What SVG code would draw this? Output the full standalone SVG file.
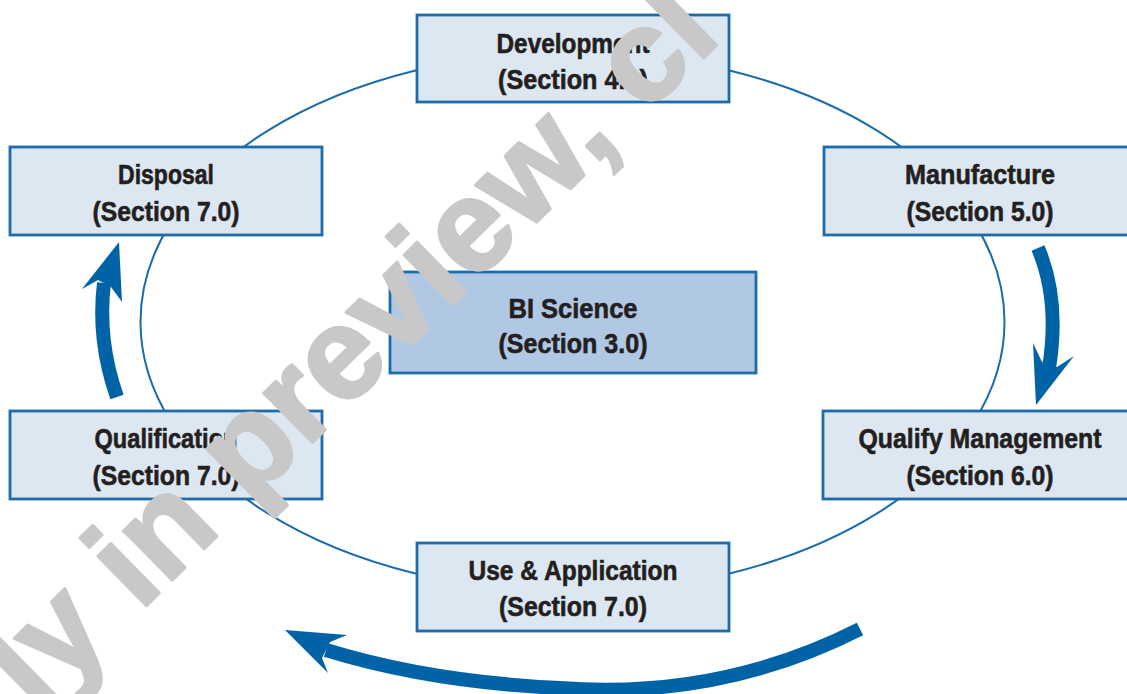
<svg xmlns="http://www.w3.org/2000/svg" width="1127" height="694" viewBox="0 0 1127 694">
<style>
.box{fill:#dde7f2;stroke:#1c6baa;stroke-width:2.8}
.core{fill:#b1c8e4;stroke:#1c6baa;stroke-width:2.8}
.lbl{font-family:"Liberation Sans Narrow","Liberation Sans",Arial,sans-serif;font-weight:bold;font-size:28.5px;fill:#231f20;stroke:#231f20;stroke-width:0.6;text-anchor:middle}
.ring{fill:none;stroke:#1c6baa;stroke-width:2}
.flow{fill:none;stroke:#0063a6;stroke-width:14}
.head{fill:#0063a6}
.wm{font-family:"Liberation Sans",Arial,sans-serif;font-weight:bold;font-size:131px;fill:#c8c8c8;stroke:#c8c8c8;stroke-width:3;stroke-linejoin:round}
</style>
<rect width="1127" height="694" fill="#ffffff"/>
<g id="connectors">
<ellipse class="ring" cx="572.5" cy="322" rx="432" ry="270"/>
<path class="flow" d="M1038,248 Q1060,300 1049,368"/>
<polygon class="head" points="1036,405 1033,343 1042,362 1057,367 1074,356"/>
<path class="flow" d="M117,397 Q97,340 104,283"/>
<polygon class="head" points="119,242 122,302 111,287 98,280 82,289"/>
<path class="flow" d="M860,629 Q720,700 560,688 Q430,682 326,650"/>
<polygon class="head" points="285,630 347,635 330,642 322,658 328,673"/>
</g>
<g id="development">
<rect class="box" x="417" y="15" width="312" height="87"/>
<text class="lbl" x="573" y="53" textLength="153" lengthAdjust="spacingAndGlyphs">Development</text>
<text class="lbl" x="573" y="89" textLength="150" lengthAdjust="spacingAndGlyphs">(Section 4.0)</text>
</g>
<g id="disposal">
<rect class="box" x="10" y="147" width="312" height="88"/>
<text class="lbl" x="166" y="184" textLength="96" lengthAdjust="spacingAndGlyphs">Disposal</text>
<text class="lbl" x="166" y="221" textLength="147" lengthAdjust="spacingAndGlyphs">(Section 7.0)</text>
</g>
<g id="manufacture">
<rect class="box" x="824" y="147" width="312" height="88"/>
<text class="lbl" x="980" y="184" textLength="150" lengthAdjust="spacingAndGlyphs">Manufacture</text>
<text class="lbl" x="980" y="221" textLength="147" lengthAdjust="spacingAndGlyphs">(Section 5.0)</text>
</g>
<g id="bi-science">
<rect class="core" x="390" y="272" width="366" height="101"/>
<text class="lbl" x="573" y="318" textLength="129" lengthAdjust="spacingAndGlyphs">BI Science</text>
<text class="lbl" x="573" y="353" textLength="149" lengthAdjust="spacingAndGlyphs">(Section 3.0)</text>
</g>
<g id="qualification">
<rect class="box" x="10" y="411" width="312" height="88"/>
<text class="lbl" x="166" y="448" textLength="143" lengthAdjust="spacingAndGlyphs">Qualification</text>
<text class="lbl" x="166" y="485" textLength="147" lengthAdjust="spacingAndGlyphs">(Section 7.0)</text>
</g>
<g id="qualify-management">
<rect class="box" x="823" y="411" width="313" height="88"/>
<text class="lbl" x="980" y="448" textLength="243" lengthAdjust="spacingAndGlyphs">Qualify Management</text>
<text class="lbl" x="980" y="485" textLength="147" lengthAdjust="spacingAndGlyphs">(Section 6.0)</text>
</g>
<g id="use-application">
<rect class="box" x="417" y="543" width="312" height="88"/>
<text class="lbl" x="573" y="580" textLength="209" lengthAdjust="spacingAndGlyphs">Use &amp; Application</text>
<text class="lbl" x="573" y="616" textLength="148" lengthAdjust="spacingAndGlyphs">(Section 7.0)</text>
</g>
<text class="wm" transform="translate(36,714) rotate(-44.5)">ly in preview, cl</text>
</svg>
